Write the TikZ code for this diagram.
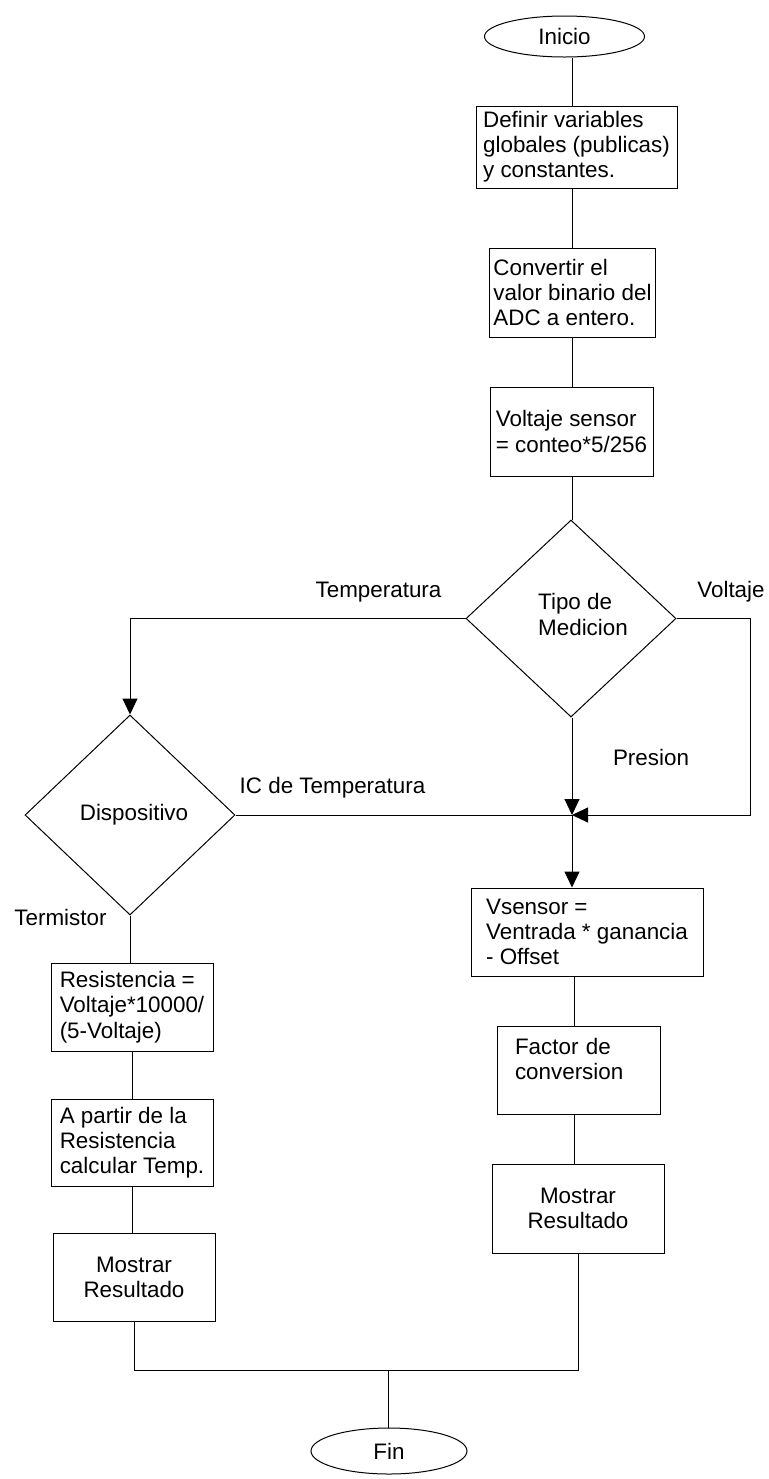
\documentclass[tikz,border=0pt]{standalone}
\usepackage{fontspec}
\setmainfont{Liberation Sans}
\usetikzlibrary{shapes.geometric,arrows.meta}
\begin{document}
\begin{tikzpicture}[x=0.5pt,y=-0.5pt,
  every node/.style={font=\fontsize{11.2pt}{12.6pt}\selectfont},
  line/.style={draw=black, line width=0.5pt},
  box/.style={line, rectangle, inner xsep=2pt, inner ysep=1pt, align=left},
  cbox/.style={box, align=center},
  term/.style={line, ellipse, inner sep=0pt},
  dec/.style={line, diamond, inner sep=0pt},
  lbl/.style={inner sep=0pt},
  arr/.style={line, -{Triangle[width=7.5pt,length=8pt]}}]
\useasboundingbox (0,0) rectangle (768,1479);

% nodes
\node[term, minimum width=80pt, minimum height=20.5pt] (inicio) at (564.5,36.5) {Inicio};
\node[box, minimum width=100.5pt, minimum height=41pt] (b1) at (576.5,147) {Definir variables\\globales (publicas)\\y constantes.};
\node[box, minimum width=80.5pt, minimum height=44.5pt] (b2) at (572.5,292.5) {Convertir el\\valor binario del\\ADC a entero.};
\node[box, minimum width=81.5pt, minimum height=44.5pt] (b3) at (571.5,431.5) {Voltaje sensor\\= conteo*5/256};
\node[dec, minimum width=105pt, minimum height=98.5pt,
  label={[align=left, xshift=6pt, yshift=2pt]center:Tipo de\\Medicion}] (d1) at (571,618.5) {};
\node[dec, minimum width=105pt, minimum height=100pt] (d2) at (130,815) {\hspace{4pt}Dispositivo};
\node[box, minimum width=116pt, minimum height=44pt] (b4) at (587,932) {Vsensor =\\Ventrada * ganancia\\- Offset};
\node[box, minimum width=81pt, minimum height=44pt] (b5) at (132,1007) {Resistencia =\\Voltaje*10000/\\(5-Voltaje)};
\node[box, minimum width=81pt, minimum height=43.5pt] (b6) at (132,1142.5) {A partir de la\\Resistencia\\calcular Temp.};
\node[cbox, minimum width=81pt, minimum height=44pt] (b7) at (134,1277) {Mostrar\\Resultado};
\node[box, text width=63.5pt, minimum width=81.5pt, minimum height=44pt] (b8) at (578.5,1070) {Factor de\\conversion\rule[-11pt]{0pt}{1pt}};
\node[cbox, minimum width=86pt, minimum height=44.5pt] (b9) at (578,1208.5) {Mostrar\\Resultado};
\node[term, minimum width=78pt, minimum height=23pt] (fin) at (389,1451) {Fin};

% labels
\node[lbl] (lT) at (378.5,592) {Temperatura};
\node[lbl] (lV) at (731,592) {Voltaje};
\node[lbl] (lP) at (651,757) {Presion};
\node[lbl] (lIC) at (332.5,788) {IC de Temperatura};
\node[lbl] (lTe) at (60.5,917) {Termistor};

% helper coordinates
\coordinate (mx) at (572,0);
\coordinate (rx) at (574,0);
\coordinate (vr) at (750,0);
\coordinate (J) at (572,815);
\coordinate (m) at (388,1370);

% connectors
\draw[line] (inicio.south -| mx) -- (b1.north -| mx);
\draw[line] (b1.south -| mx) -- (b2.north -| mx);
\draw[line] (b2.south -| mx) -- (b3.north -| mx);
\draw[line] (b3.south -| mx) -- (d1.north -| mx);
\draw[arr] (d1.west) -| (d2.north);
\draw[arr] (d1.east) -| (vr |- J) -- (J);
\draw[arr] (d1.south -| J) -- (J);
\draw[line] (d2.east) -- (J);
\draw[arr] (J) -- (J |- b4.north);
\draw[line] (b4.south -| rx) -- (b8.north -| rx);
\draw[line] (b8.south -| rx) -- (b9.north -| rx);
\draw[line] (d2.south) -- (d2.south |- b5.north);
\draw[line] (b5.south) -- (b6.north);
\draw[line] (b6.south) -- (b6.south |- b7.north);
\draw[line] (b7.south) |- (m) -| (b9.south);
\draw[line] (m) -- (fin.north -| m);
\end{tikzpicture}
\end{document}
